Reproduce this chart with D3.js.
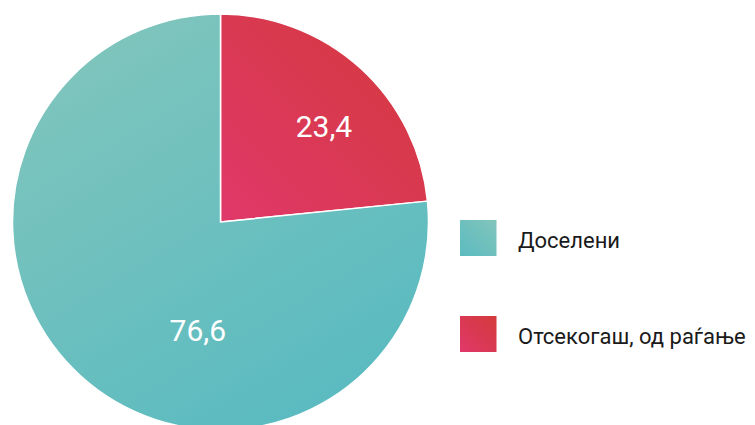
<!DOCTYPE html>
<html><head><meta charset="utf-8">
<script src="https://cdn.jsdelivr.net/npm/d3@7"></script>
<style>
html,body{margin:0;padding:0;background:#fff;}
svg{display:block;}
text{font-family:Roboto, "Noto Sans", sans-serif;}
</style></head>
<body>
<svg id="chart" width="755" height="425"></svg>
<script>
const categories = ["Отсекогаш, од раѓање", "Доселени"];
const values = [23.4, 76.6];
const valueLabels = ["23,4", "76,6"];
const legendOrder = ["Доселени", "Отсекогаш, од раѓање"];

const W = 755, H = 425;
const cx = 220.5, cy = 222, R = 208;
const svg = d3.select("#chart");
const defs = svg.append("defs");

function grad(id, x1, y1, x2, y2, c1, c2) {
  const g = defs.append("linearGradient").attr("id", id)
    .attr("x1", x1).attr("y1", y1).attr("x2", x2).attr("y2", y2);
  g.append("stop").attr("offset", "0%").attr("stop-color", c1);
  g.append("stop").attr("offset", "100%").attr("stop-color", c2);
}
grad("gTealSlice", "0", "0", "0.6", "1", "#84c6bc", "#5bbbc0");
grad("gRedSlice", "0", "1", "1", "0", "#e0386a", "#d33a3a");
grad("gTealLeg", "0", "1", "1", "0", "#5bbbc0", "#82c5bb");
grad("gRedLeg", "0", "1", "1", "0", "#e0386a", "#d33a3a");

const fills = {"Отсекогаш, од раѓање": "url(#gRedSlice)", "Доселени": "url(#gTealSlice)"};
const legFills = {"Отсекогаш, од раѓање": "url(#gRedLeg)", "Доселени": "url(#gTealLeg)"};

const data = categories.map((c, i) => ({cat: c, value: values[i], label: valueLabels[i]}));
const pie = d3.pie().value(d => d.value).sort(null);
const arc = d3.arc().innerRadius(0).outerRadius(R);
const arcs = pie(data);

const g = svg.append("g").attr("transform", `translate(${cx},${cy})`);
g.selectAll("path").data(arcs).join("path")
  .attr("d", arc)
  .attr("fill", d => fills[d.data.cat])
  .attr("stroke", "#fff").attr("stroke-width", 1.5).attr("stroke-linejoin", "round");

// label placement (polar: fraction of slice angle, radius)
const labelPos = [{t: 0.56, r: 141}, {t: 0.39, r: 111}];
g.selectAll("text.val").data(arcs).join("text").attr("class", "val")
  .attr("x", (d, i) => { const a = d.startAngle + (d.endAngle - d.startAngle) * labelPos[i].t; return Math.sin(a) * labelPos[i].r; })
  .attr("y", (d, i) => { const a = d.startAngle + (d.endAngle - d.startAngle) * labelPos[i].t; return -Math.cos(a) * labelPos[i].r; })
  .attr("text-anchor", "middle").attr("dy", "0.36em")
  .attr("fill", "#fff").attr("font-size", 30)
  .text(d => d.data.label);

const ly = d3.scalePoint().domain(legendOrder).range([238, 334]);
const lg = svg.append("g");
const items = lg.selectAll("g").data(legendOrder).join("g")
  .attr("transform", d => `translate(460,${ly(d)})`);
items.append("rect").attr("x", 0).attr("y", -18).attr("width", 36.5).attr("height", 36)
  .attr("fill", d => legFills[d]);
items.append("text").attr("x", 58).attr("y", 10).attr("font-size", 22)
  .attr("fill", "#1a1a1a").text(d => d);
</script>
</body></html>
